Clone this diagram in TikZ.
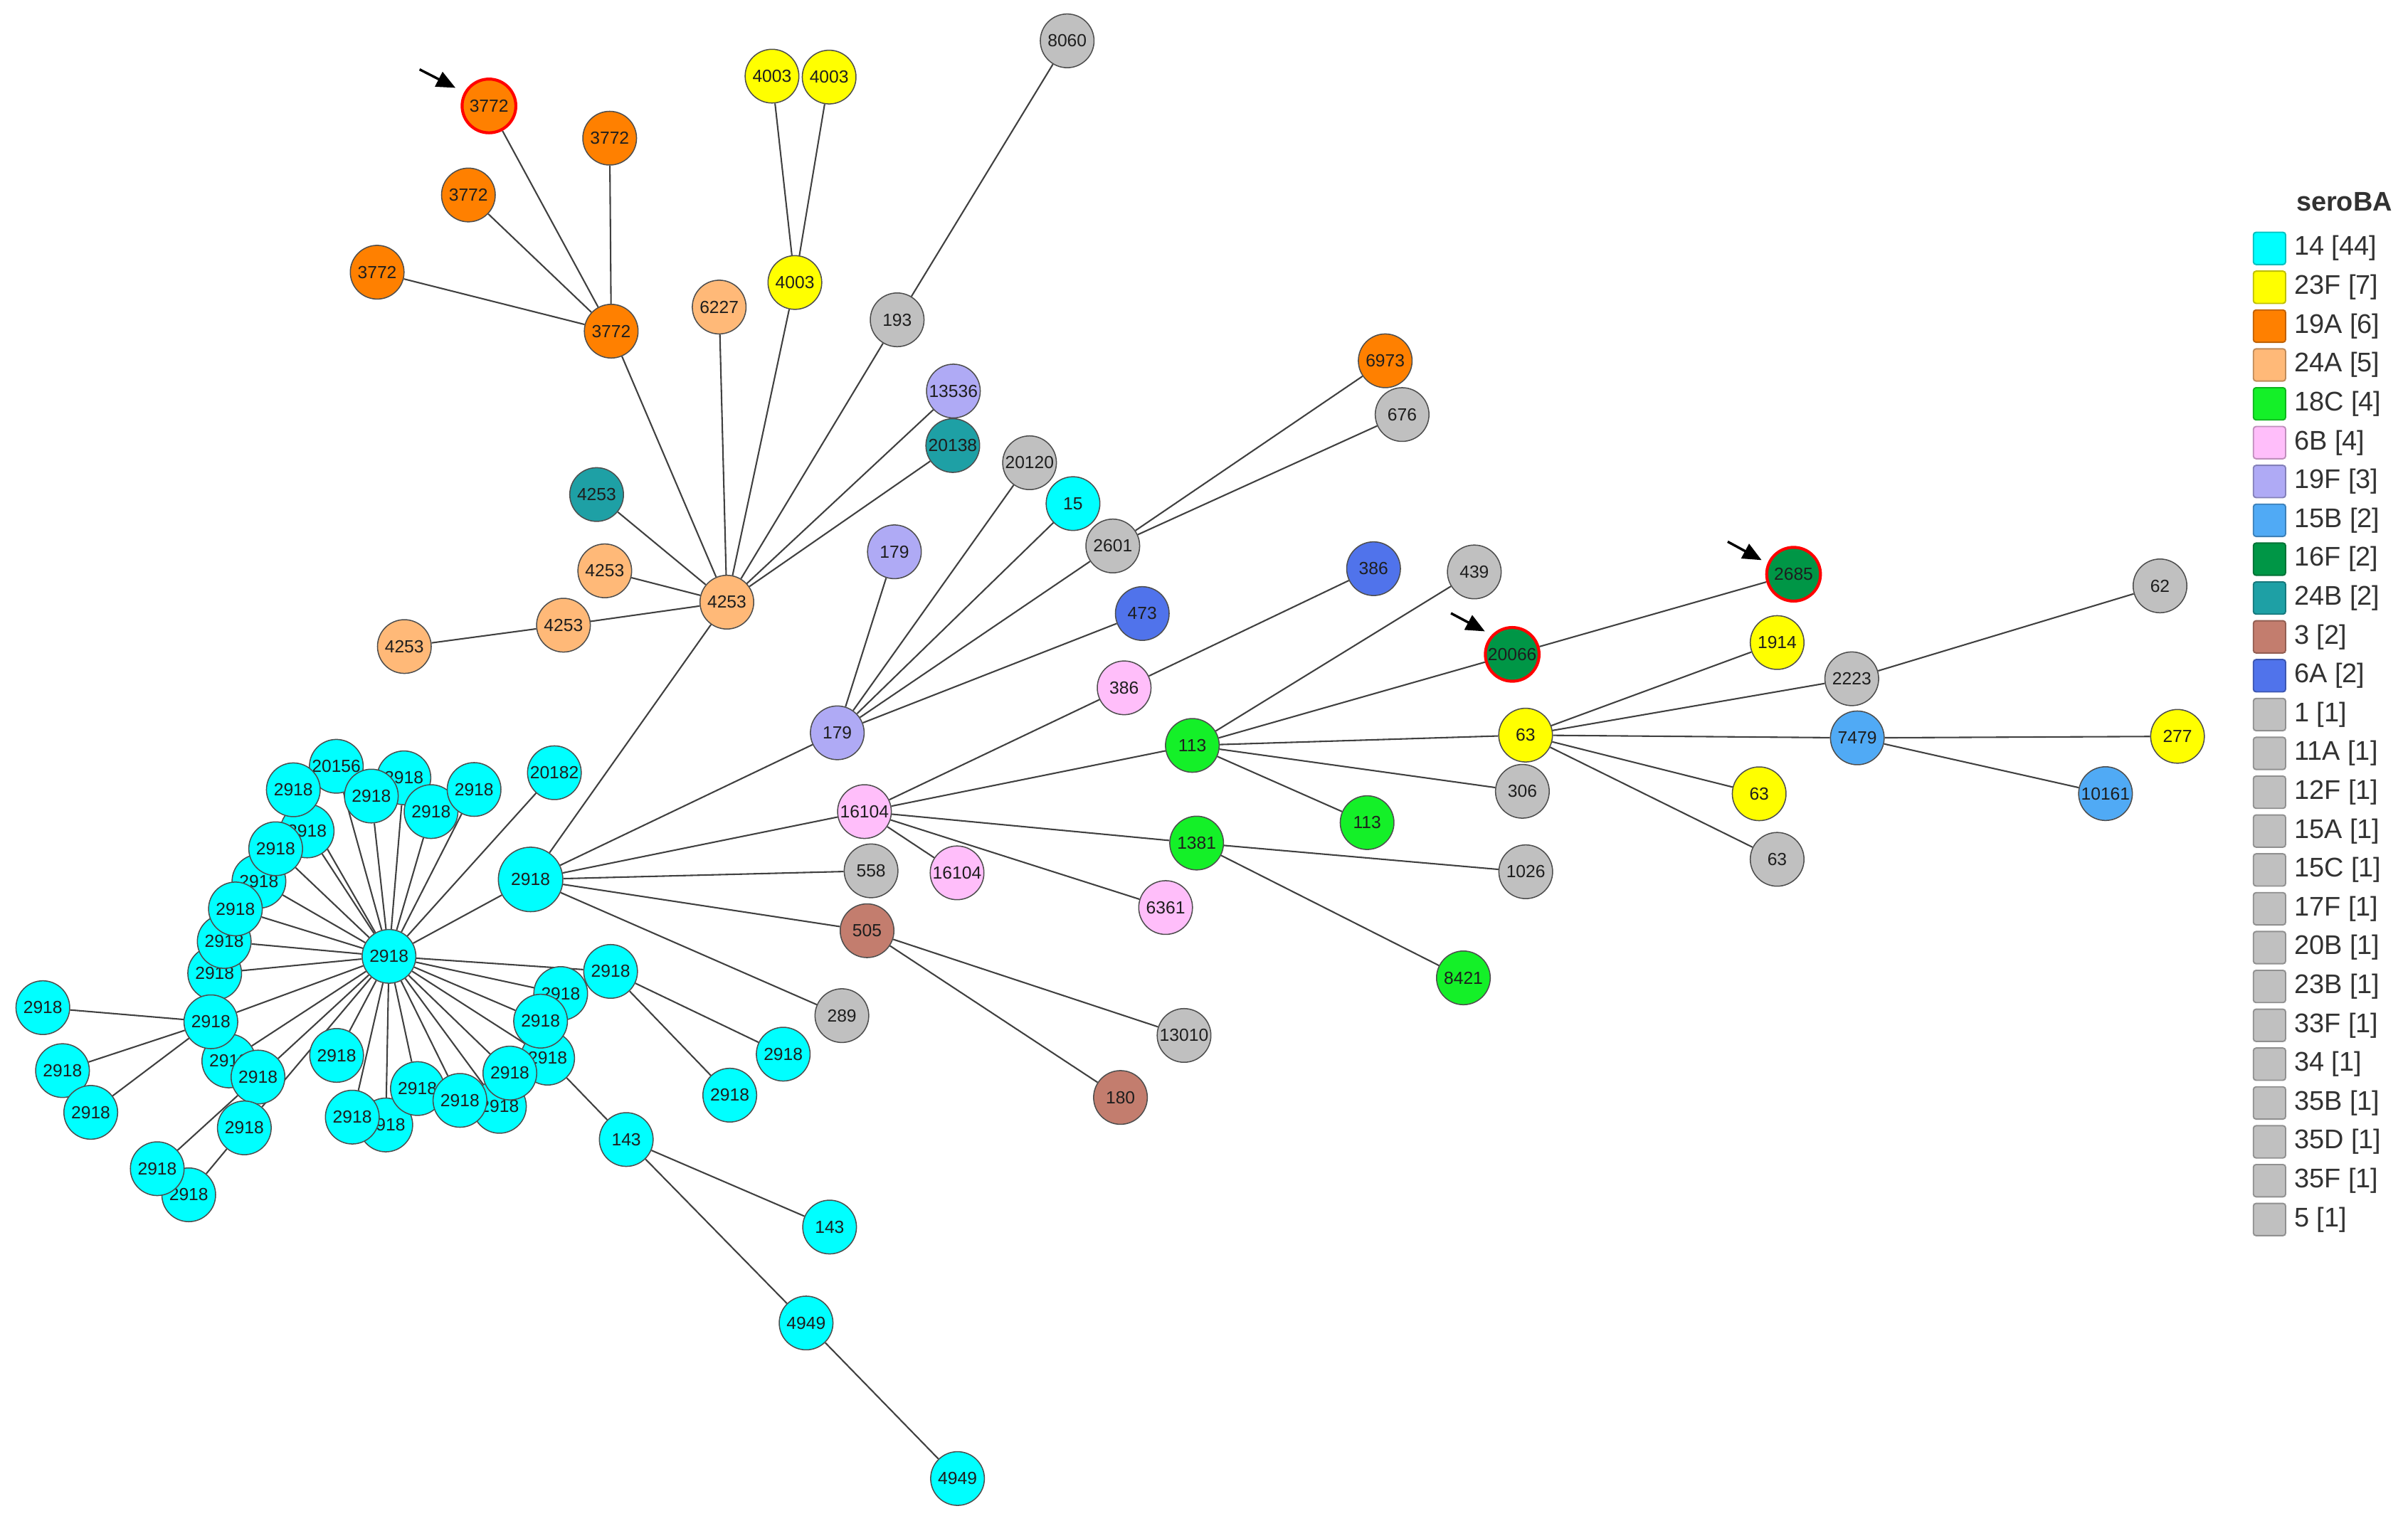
\documentclass[tikz,border=0pt]{standalone}
\usepackage{fontspec}
\setmainfont{Liberation Sans}
\usetikzlibrary{arrows.meta}
\definecolor{c14}{RGB}{0,255,255}
\definecolor{c23F}{RGB}{255,255,0}
\definecolor{c19A}{RGB}{255,128,0}
\definecolor{c24A}{RGB}{255,185,120}
\definecolor{c18C}{RGB}{20,240,40}
\definecolor{c6B}{RGB}{255,190,250}
\definecolor{c19F}{RGB}{175,170,245}
\definecolor{c15B}{RGB}{80,170,245}
\definecolor{c16F}{RGB}{0,150,70}
\definecolor{c24B}{RGB}{30,160,165}
\definecolor{c3}{RGB}{195,125,110}
\definecolor{c6A}{RGB}{80,115,235}
\definecolor{cgr}{RGB}{192,192,192}
\definecolor{ndline}{RGB}{77,77,77}
\definecolor{edg}{RGB}{64,64,64}
\definecolor{txt}{RGB}{30,30,30}
\definecolor{legtxt}{RGB}{50,50,50}
\pgfdeclarelayer{bg}
\pgfsetlayers{bg,main}
\tikzset{
  nd/.style={circle, draw=ndline, line width=0.4pt, minimum size=0.7cm, inner sep=0pt,
    font=\fontsize{6.5}{7.5}\selectfont, text=txt},
  big/.style={minimum size=0.84cm},
  ring/.style={draw=red, line width=1.1pt},
  edge/.style={draw=edg, line width=0.55pt},
  pointer/.style={draw=black, line width=0.9pt, -{Triangle[length=7pt,width=6pt]}},
  legsq/.style={rectangle, rounded corners=1pt, minimum width=0.42cm, minimum height=0.42cm, inner sep=0pt, line width=0.5pt},
  legtx/.style={anchor=west, inner sep=0pt, font=\fontsize{10}{12}\selectfont, text=legtxt},
}
\begin{document}
\begin{tikzpicture}[x=0.02cm, y=-0.02cm]
\useasboundingbox (0,0) rectangle (1568,987);
% ---- behind nodes of the cyan cluster (drawn first) ----
\node[nd, fill=c14] (k20156) at (219,499.1) {20156};
\node[nd, fill=c14] (k2) at (263,506.6) {2918};
\node[nd, fill=c14] (k6) at (200,541.2) {2918};
\node[nd, fill=c14] (k8) at (168.6,574) {2918};
\node[nd, fill=c14] (k16) at (149,691) {2918};
\node[nd, fill=c14] (k23) at (251.2,732.7) {2918};
\node[nd, fill=c14] (k26) at (325.2,720.6) {2918};
\node[nd, fill=c14] (k28) at (356.6,689.2) {2918};
\node[nd, fill=c14] (k30) at (365.1,647.1) {2918};
\node[nd, fill=c14] (k21) at (122.9,778.2) {2918};
\node[nd, fill=c14] (k11) at (139.8,633.9) {2918};
\node[nd, fill=c14] (k10) at (146,613.2) {2918};
\node[nd, fill=c14] (k9) at (153.3,592) {2918};
\node[nd, fill=c14] (k7) at (179.5,552.8) {2918};
\node[nd, fill=c14] (k1) at (191,514.4) {2918};
\node[nd, fill=c14] (k3) at (241.8,518.5) {2918};
\node[nd, fill=c14] (k4) at (280.7,528.6) {2918};
\node[nd, fill=c14] (k5) at (308.7,514.2) {2918};
\node[nd, fill=c14] (k20182) at (361,503.3) {20182};
\node[nd, fill=c14] (k13) at (137.3,665.5) {2918};
\node[nd, fill=c14] (k12) at (27.9,656.3) {2918};
\node[nd, fill=c14] (k14) at (40.7,697.3) {2918};
\node[nd, fill=c14] (k15) at (59.1,724.5) {2918};
\node[nd, fill=c14] (k17) at (168,701.5) {2918};
\node[nd, fill=c14] (k19) at (159.1,734.6) {2918};
\node[nd, fill=c14] (k20) at (102.4,761.2) {2918};
\node[nd, fill=c14] (k18) at (219.2,687.4) {2918};
\node[nd, fill=c14] (k22) at (229.4,727.6) {2918};
\node[nd, fill=c14] (k24) at (271.8,709) {2918};
\node[nd, fill=c14] (k25) at (299.5,716.7) {2918};
\node[nd, fill=c14] (k27) at (332,698.9) {2918};
\node[nd, fill=c14] (k29) at (352,665.1) {2918};
\node[nd, fill=c14] (k31) at (397.6,632.7) {2918};
\node[nd, fill=c14] (C) at (253.3,622.9) {2918};
\node[nd, big, fill=c14] (H) at (345.5,572.8) {2918};
\node[nd, fill=c14] (k32) at (510,686.6) {2918};
\node[nd, fill=c14] (k33) at (475.2,713.3) {2918};
\node[nd, fill=c14] (k143) at (407.8,742.2) {143};
\node[nd, fill=c14] (k143b) at (540.2,799.2) {143};
\node[nd, fill=c14] (k4949) at (524.9,861.7) {4949};
\node[nd, fill=c14] (k4949b) at (623.5,963) {4949};
% ---- upper part ----
\node[nd, fill=c19A, ring] (a1) at (318.4,69) {3772};
\node[nd, fill=c19A] (a2) at (397,90) {3772};
\node[nd, fill=c19A] (a3) at (305,127) {3772};
\node[nd, fill=c19A] (a4) at (245.6,177.3) {3772};
\node[nd, fill=c19A] (a5) at (398,215.7) {3772};
\node[nd, fill=c23F] (b1) at (502.7,49.6) {4003};
\node[nd, fill=c23F] (b2) at (539.9,50.2) {4003};
\node[nd, fill=c23F] (b3) at (517.6,184) {4003};
\node[nd, fill=c24A] (d1) at (468.3,200) {6227};
\node[nd, fill=cgr] (g193) at (584.2,208.3) {193};
\node[nd, fill=cgr] (g8060) at (694.9,26.6) {8060};
\node[nd, fill=c19F] (f1) at (620.8,254.7) {13536};
\node[nd, fill=c24B] (t1) at (620.4,290.2) {20138};
\node[nd, fill=cgr] (g20120) at (670.4,301.4) {20120};
\node[nd, fill=c14] (c15) at (698.7,328) {15};
\node[nd, fill=cgr] (g2601) at (724.6,355.6) {2601};
\node[nd, fill=c19A] (o6973) at (902,235) {6973};
\node[nd, fill=cgr] (g676) at (913,270) {676};
\node[nd, fill=c24B] (t2) at (388.5,322.1) {4253};
\node[nd, fill=c24A] (e1) at (393.8,371.8) {4253};
\node[nd, fill=c24A] (e0) at (473.3,392.2) {4253};
\node[nd, fill=c24A] (e2) at (366.9,407.2) {4253};
\node[nd, fill=c24A] (e3) at (263.3,421.1) {4253};
\node[nd, fill=c19F] (f2) at (582.4,359.4) {179};
\node[nd, fill=c19F] (f0) at (545.2,477.3) {179};
\node[nd, fill=c6A] (s473) at (743.8,399.6) {473};
\node[nd, fill=c6A] (s386) at (894.4,370.4) {386};
\node[nd, fill=cgr] (g439) at (960,372.5) {439};
\node[nd, fill=c6B] (p386) at (732,448) {386};
\node[nd, fill=c16F, ring] (v1) at (984.7,426.2) {20066};
\node[nd, fill=c16F, ring] (v2) at (1167.9,374) {2685};
\node[nd, fill=c23F] (y1914) at (1157.2,418.5) {1914};
\node[nd, fill=cgr] (g2223) at (1205.8,442.1) {2223};
\node[nd, fill=cgr] (g62) at (1406.5,381.6) {62};
\node[nd, fill=c18C] (h113) at (776.4,485.5) {113};
\node[nd, fill=c23F] (y63) at (993.4,478.8) {63};
\node[nd, fill=c15B] (u7479) at (1209.4,480.6) {7479};
\node[nd, fill=c23F] (y277) at (1417.9,479.6) {277};
\node[nd, fill=cgr] (g306) at (991.3,515.4) {306};
\node[nd, fill=c23F] (y63b) at (1145.5,517) {63};
\node[nd, fill=c15B] (u10161) at (1371,516.9) {10161};
\node[nd, fill=cgr] (g63) at (1157.2,559.7) {63};
\node[nd, fill=c18C] (h113b) at (890.2,535.8) {113};
\node[nd, fill=c6B] (p0) at (562.9,528.6) {16104};
\node[nd, fill=c18C] (h1381) at (779.2,549.1) {1381};
\node[nd, fill=cgr] (g1026) at (993.5,567.8) {1026};
\node[nd, fill=cgr] (g558) at (567.2,567.2) {558};
\node[nd, fill=c6B] (p16104) at (623.2,568.5) {16104};
\node[nd, fill=c6B] (p6361) at (759,591.1) {6361};
\node[nd, fill=c3] (r505) at (564.6,606.2) {505};
\node[nd, fill=c18C] (h8421) at (952.9,636.9) {8421};
\node[nd, fill=cgr] (g13010) at (771,674.4) {13010};
\node[nd, fill=c3] (r180) at (729.6,714.8) {180};
\node[nd, fill=cgr] (g289) at (548.2,661.5) {289};
% ---- edges ----
\begin{pgfonlayer}{bg}
\fill[white] (0,0) rectangle (1568,987);
\foreach \u/\v in {a5/a1,a5/a2,a5/a3,a5/a4,a5/e0,b3/b1,b3/b2,b3/e0,d1/e0,g193/e0,g193/g8060,
  f1/e0,t1/e0,t2/e0,e1/e0,e2/e0,e2/e3,e0/H,
  f0/f2,f0/g20120,f0/c15,f0/g2601,f0/s473,f0/H,g2601/o6973,g2601/g676,
  p0/p386,p386/s386,p0/h113,p0/h1381,p0/p16104,p0/p6361,p0/H,
  h113/g439,h113/v1,h113/y63,h113/g306,h113/h113b,v1/v2,
  y63/y1914,y63/g2223,y63/u7479,y63/y63b,y63/g63,g2223/g62,u7479/y277,u7479/u10161,
  h1381/g1026,h1381/h8421,H/g558,H/r505,H/g289,r505/g13010,r505/r180,H/C,
  C/k20156,C/k1,C/k2,C/k3,C/k4,C/k5,C/k20182,C/k6,C/k7,C/k8,C/k9,C/k10,C/k11,C/k13,C/k16,C/k17,
  C/k18,C/k19,C/k22,C/k23,C/k24,C/k25,C/k26,C/k27,C/k28,C/k29,C/k30,C/k31,
  k13/k12,k13/k14,k13/k15,k17/k20,k19/k21,k31/k32,k31/k33,k28/k143,
  k143/k143b,k143/k4949,k4949/k4949b}
  {\draw[edge] (\u) -- (\v);}
\end{pgfonlayer}
% ---- pointer arrows ----
\coordinate (ar1s) at (273.2,45.2);
\coordinate (ar1e) at (296.6,57.2);
\coordinate (ar2s) at (944.8,399.4);
\coordinate (ar2e) at (966.9,411.2);
\coordinate (ar3s) at (1125,352.8);
\coordinate (ar3e) at (1147.1,364.8);
\draw[pointer] (ar1s) -- (ar1e);
\draw[pointer] (ar2s) -- (ar2e);
\draw[pointer] (ar3s) -- (ar3e);
% ---- legend ----
\node[anchor=center, inner sep=0pt, font=\bfseries\fontsize{10}{12}\selectfont, text=legtxt] (legtitle) at (1526.5,131.4) {seroBA};
\foreach \col/\lab [count=\i from 0] in {c14/{14 [44]},c23F/{23F [7]},c19A/{19A [6]},c24A/{24A [5]},
  c18C/{18C [4]},c6B/{6B [4]},c19F/{19F [3]},c15B/{15B [2]},c16F/{16F [2]},c24B/{24B [2]},
  c3/{3 [2]},c6A/{6A [2]},cgr/{1 [1]},cgr/{11A [1]},cgr/{12F [1]},cgr/{15A [1]},cgr/{15C [1]},
  cgr/{17F [1]},cgr/{20B [1]},cgr/{23B [1]},cgr/{33F [1]},cgr/{34 [1]},cgr/{35B [1]},
  cgr/{35D [1]},cgr/{35F [1]},cgr/{5 [1]}}
{
  \node[legsq, fill=\col, draw=\col!75!black] (lg\i) at (1477.8,{161.8+25.3*\i}) {};
  \node[legtx] (lt\i) at (1493.6,{161.8+25.3*\i}) {\lab};
}
\end{tikzpicture}
\end{document}
